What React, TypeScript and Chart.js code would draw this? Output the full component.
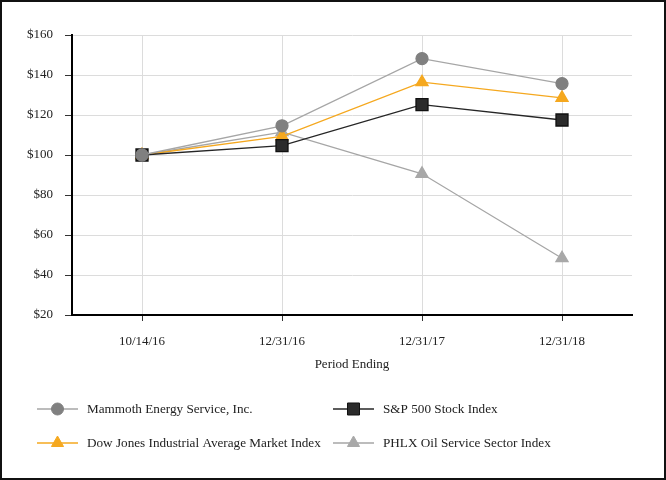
import React, { useEffect, useRef } from "react";
import { Chart, registerables } from "chart.js";
import { drawPoint } from "chart.js/helpers";

Chart.register(...registerables);

const periods = ["10/14/16", "12/31/16", "12/31/17", "12/31/18"];
const mammoth = [100, 114.6, 148.2, 135.7];
const sp500 = [100, 104.7, 125.2, 117.5];
const dowJones = [100, 109.3, 136.4, 128.6];
const phlx = [100, 111.4, 90.6, 48.4];

const seriesNames = [
  "Mammoth Energy Service, Inc.",
  "S&P 500 Stock Index",
  "Dow Jones Industrial Average Market Index",
  "PHLX Oil Service Sector Index",
];

const yMin = 20;
const yMax = 160;
const yStep = 20;

const FONT = "'Liberation Serif', 'Times New Roman', serif";

const legendPlugin = {
  id: "customLegend",
  afterDraw(chart: any) {
    const ctx = chart.ctx;
    const cols = [35, 331];
    const rows = [407, 441];
    const order = [0, 1, 2, 3];
    ctx.save();
    order.forEach((di, i) => {
      const ds = chart.data.datasets[di];
      const x = cols[i % 2];
      const y = rows[Math.floor(i / 2)];
      ctx.strokeStyle = ds.borderColor;
      ctx.lineWidth = ds.borderWidth;
      ctx.beginPath();
      ctx.moveTo(x, y);
      ctx.lineTo(x + 41, y);
      ctx.stroke();
      ctx.fillStyle = ds.pointBackgroundColor;
      ctx.strokeStyle = ds.pointBorderColor;
      ctx.lineWidth = 1;
      drawPoint(ctx, { pointStyle: ds.pointStyle, rotation: 0, radius: ds.pointRadius, borderWidth: 1 }, x + 20.5, y);
      ctx.fillStyle = "#222";
      ctx.font = `13.2px ${FONT}`;
      ctx.textBaseline = "middle";
      ctx.textAlign = "left";
      ctx.fillText(seriesNames[di], x + 50, y + 1);
    });
    ctx.restore();
  },
};

export default function App() {
  const ref = useRef<HTMLCanvasElement | null>(null);
  useEffect(() => {
    document.body.style.margin = "0";
    if (!ref.current) return;
    const chart = new Chart(ref.current, {
      type: "line",
      data: {
        labels: periods,
        datasets: [
          {
            label: seriesNames[0],
            data: mammoth,
            borderColor: "#a6a6a6",
            borderWidth: 1.3,
            pointStyle: "circle",
            pointRadius: 6,
            pointBackgroundColor: "#808080",
            pointBorderColor: "#808080",
          },
          {
            label: seriesNames[1],
            data: sp500,
            borderColor: "#262626",
            borderWidth: 1.3,
            pointStyle: "rect",
            pointRadius: 8.5,
            pointBackgroundColor: "#2b2b2b",
            pointBorderColor: "#111",
          },
          {
            label: seriesNames[2],
            data: dowJones,
            borderColor: "#f5a81f",
            borderWidth: 1.3,
            pointStyle: "triangle",
            pointRadius: 7,
            pointBackgroundColor: "#f5a81f",
            pointBorderColor: "#f5a81f",
          },
          {
            label: seriesNames[3],
            data: phlx,
            borderColor: "#a6a6a6",
            borderWidth: 1.3,
            pointStyle: "triangle",
            pointRadius: 7,
            pointBackgroundColor: "#a8a8a8",
            pointBorderColor: "#a8a8a8",
          },
        ] as any,
      },
      options: {
        animation: false,
        responsive: false,
        devicePixelRatio: 1,
        layout: { padding: { left: 0, right: 32, top: 33, bottom: 103 } },
        plugins: {
          legend: { display: false },
          tooltip: { enabled: false },
        },
        elements: { line: { tension: 0 }, point: { hoverRadius: 6 } },
        scales: {
          x: {
            offset: true,
            afterFit: (s: any) => {
              s.height = 60;
            },
            grid: { color: "#dcdcdc", lineWidth: 1, tickLength: 6, tickColor: "#333", offset: false },
            border: { color: "#000", width: 2 },
            ticks: { color: "#222", font: { family: FONT, size: 13 }, padding: 13 },
            title: {
              display: true,
              text: "Period Ending",
              color: "#222",
              font: { family: FONT, size: 13 },
              padding: { top: 0, bottom: 3 },
            },
          },
          y: {
            min: yMin,
            max: yMax,
            afterFit: (s: any) => {
              s.width = 70;
            },
            grid: { color: "#dcdcdc", lineWidth: 1, tickLength: 7, tickColor: "#333" },
            border: { color: "#000", width: 2 },
            ticks: {
              stepSize: yStep,
              color: "#222",
              font: { family: FONT, size: 13 },
              padding: 12,
              callback: (v: any) => "$" + v,
            },
          },
        },
      },
      plugins: [legendPlugin],
    });
    return () => chart.destroy();
  }, []);
  return (
    <div
      style={{
        position: "absolute",
        left: 0,
        top: 0,
        width: 666,
        height: 480,
        boxSizing: "border-box",
        border: "2px solid #111",
        background: "#fff",
      }}
    >
      <canvas ref={ref} width={662} height={476} style={{ display: "block", width: 662, height: 476 }} />
    </div>
  );
}
